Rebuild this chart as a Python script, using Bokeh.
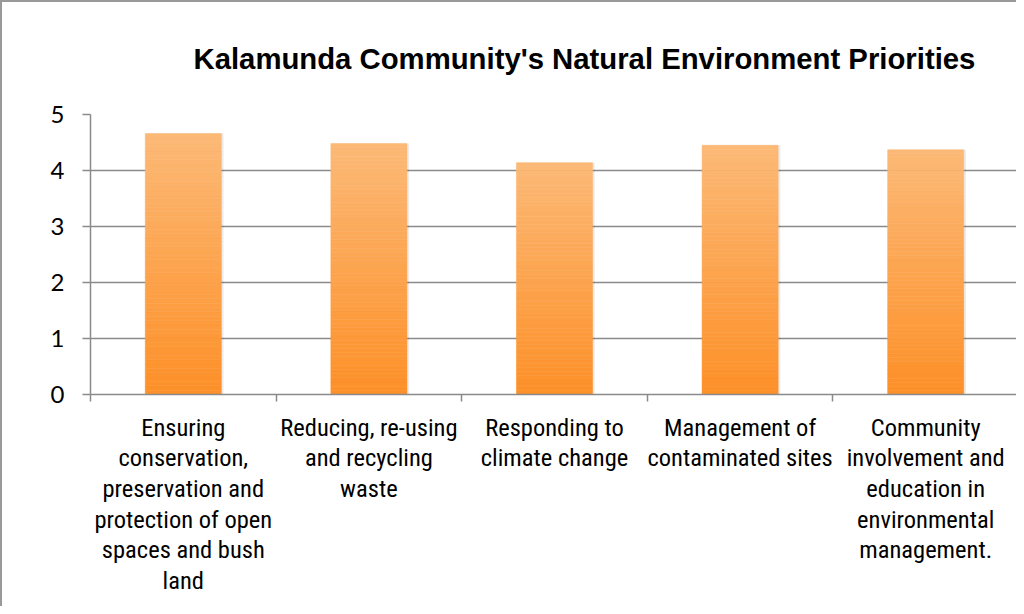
from bokeh.plotting import figure
from bokeh.models import Range1d, FixedTicker, ColumnDataSource
from bokeh.embed import file_html
from bokeh.resources import INLINE

title_text = "Kalamunda Community's Natural Environment Priorities"
categories = [
    "Ensuring\nconservation,\npreservation and\nprotection of open\nspaces and bush\nland",
    "Reducing, re-using\nand recycling\nwaste",
    "Responding to\nclimate change",
    "Management of\ncontaminated sites",
    "Community\ninvolvement and\neducation in\nenvironmental\nmanagement.",
]
values = [4.66, 4.48, 4.14, 4.45, 4.37]
y_ticks = [0, 1, 2, 3, 4, 5]

TOP = (252, 185, 118)
BOTTOM = (253, 144, 40)
N = 60
GRID = "#8a8a8a"
LABEL_FONT = "'Liberation Sans Narrow', 'Arial Narrow', 'Roboto Condensed', 'Liberation Sans', sans-serif"

p = figure(width=1016, height=606, output_backend="svg", toolbar_location=None,
           x_range=Range1d(0, len(categories)), y_range=Range1d(0, 5),
           min_border_left=88, min_border_right=0, min_border_top=112, min_border_bottom=214,
           title=title_text)
p.styles = {"border-left": "2px solid #999999", "border-top": "2px solid #999999"}
p.outline_line_color = None
p.background_fill_color = "white"
p.border_fill_color = "white"

p.title.text_font = "'Liberation Sans', Arial, sans-serif"
p.title.text_font_style = "bold"
p.title.text_font_size = "29.3px"
p.title.align = "left"
p.title.vertical_align = "top"
p.title.offset = 103
p.title.standoff = 76
p.title.text_color = "black"

# gradient bars built from the data values
xs, bottoms, tops, colors = [], [], [], []
for i, v in enumerate(values):
    for j in range(N):
        t = j / (N - 1)
        r = round(BOTTOM[0] + (TOP[0] - BOTTOM[0]) * t)
        g = round(BOTTOM[1] + (TOP[1] - BOTTOM[1]) * t)
        b = round(BOTTOM[2] + (TOP[2] - BOTTOM[2]) * t)
        xs.append(i + 0.5)
        bottoms.append(v * j / N)
        tops.append(v * (j + 1) / N)
        colors.append("#%02x%02x%02x" % (r, g, b))
src = ColumnDataSource(dict(x=xs, bottom=bottoms, top=tops, color=colors))
# soft shadow
p.vbar(x=[i + 0.5 + 0.012 for i in range(len(values))], top=values, bottom=[-0.03]*len(values),
       width=0.41, fill_color="#000000", fill_alpha=0.08, line_color=None)
p.vbar(x="x", bottom="bottom", top="top", width=0.41, fill_color="color",
       line_color="color", line_width=0.5, source=src)

# x axis
xa = p.xaxis[0]
xa.ticker = FixedTicker(ticks=[i + 0.5 for i in range(len(categories))],
                        minor_ticks=list(range(len(categories) + 1)))
xa.major_label_overrides = {i + 0.5: c for i, c in enumerate(categories)}
xa.major_tick_out = 0
xa.major_tick_in = 0
xa.minor_tick_out = 7
xa.minor_tick_in = 0
xa.minor_tick_line_color = GRID
xa.minor_tick_line_width = 1.5
xa.axis_line_color = GRID
xa.axis_line_width = 1.5
xa.major_label_standoff = 11
xa.major_label_text_font = LABEL_FONT
xa.major_label_text_font_size = "24.5px"
xa.major_label_text_line_height = 1.06
xa.major_label_text_color = "black"

# y axis
ya = p.yaxis[0]
ya.ticker = FixedTicker(ticks=y_ticks)
ya.major_tick_out = 8
ya.major_tick_in = 0
ya.minor_tick_out = 0
ya.minor_tick_in = 0
ya.major_tick_line_color = GRID
ya.major_tick_line_width = 1.5
ya.axis_line_color = GRID
ya.axis_line_width = 1.5
ya.major_label_standoff = 18
ya.major_label_text_font = "Lato, 'Open Sans', sans-serif"
ya.major_label_text_font_size = "24px"
ya.major_label_text_color = "black"

p.xgrid.grid_line_color = None
p.ygrid.ticker = FixedTicker(ticks=y_ticks)
p.ygrid.grid_line_color = GRID
p.ygrid.grid_line_width = 1.5
p.ygrid.level = "underlay"

open("out.html", "w").write(file_html(p, INLINE))
